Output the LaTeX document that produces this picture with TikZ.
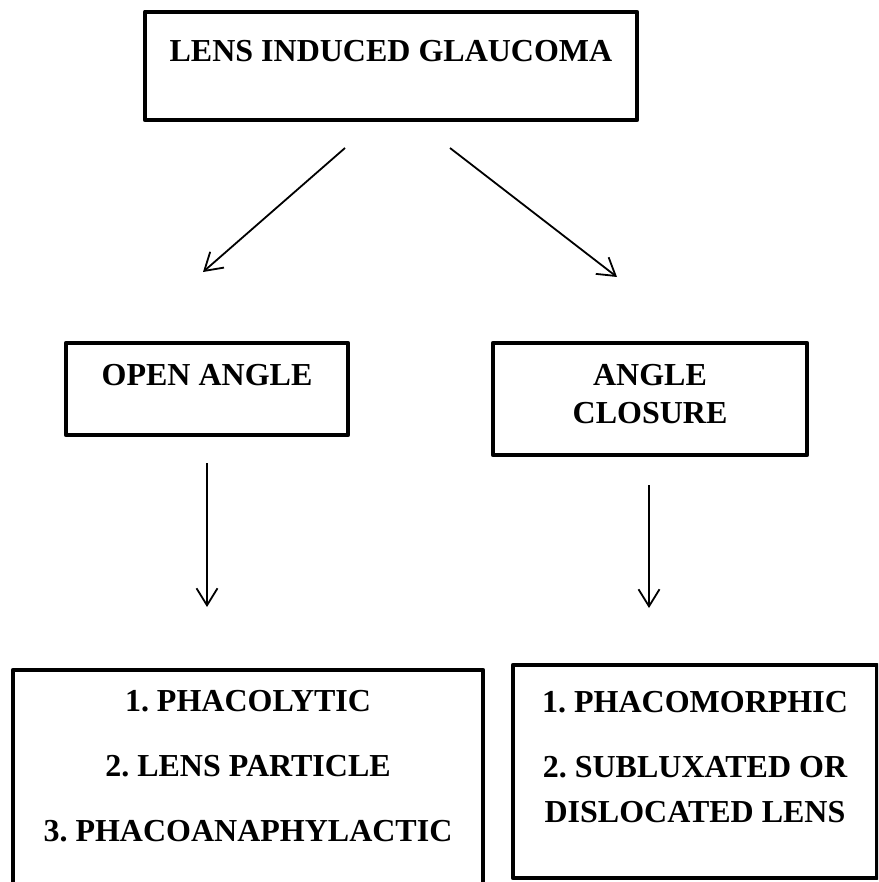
\documentclass[tikz,border=0pt]{standalone}
\usepackage{fontspec}
\setmainfont{Liberation Serif}
\usetikzlibrary{arrows.meta}
\frenchspacing

\tikzset{
    box/.style={draw=black, line width=4.8pt, line join=round, inner sep=0pt, outer sep=0pt},
    txt/.style={font=\fontsize{32}{38}\selectfont\bfseries, align=center, inner sep=0pt},
    arr/.style={black, line width=1.8pt, -{Straight Barb[length=17pt,width=21pt]}}
}

\begin{document}
\begin{tikzpicture}[x = 1pt, y = -1pt]

            \useasboundingbox (0,0) rectangle (878,882);
            \clip (0,0) rectangle (878,882);
            \fill[white] (0,0) rectangle (878,882);

            \node[box, minimum width=492, minimum height=108] (lig) at (391,66) {};
            \node[txt] (ligT) at (391,51) {LENS INDUCED GLAUCOMA};

            \node[box, minimum width=282, minimum height=92] (open) at (207,389) {};
            \node[txt] (openT) at (207,375) {OPEN ANGLE};

            \node[box, minimum width=314, minimum height=112] (closed) at (650,399) {};
            \node[txt] (closedT) at (650,394) {ANGLE\\CLOSURE};

            \node[box, minimum width=470, minimum height=250] (openList) at (248,795) {};
            \node[txt] (openListT) at (248,766)
                {1. PHACOLYTIC\\[27pt]2. LENS PARTICLE\\[27pt]3. PHACOANAPHYLACTIC};

            \node[box, minimum width=364, minimum height=213] (closedList) at (695,771.5) {};
            \node[txt] (closedListT) at (695,757)
                {1. PHACOMORPHIC\\[27pt]2. SUBLUXATED OR\\[7pt]DISLOCATED LENS};

            \coordinate (ligL) at (345,148);
            \coordinate (ligR) at (450,148);
            \coordinate (openIn) at (203,272);
            \coordinate (closedIn) at (617,277);
            \coordinate (openOut) at (207,463);
            \coordinate (openListIn) at (207,607);
            \coordinate (closedOut) at (649,485);
            \coordinate (closedListIn) at (649,608);

            \draw[arr] (ligL) -- (openIn);
            \draw[arr] (ligR) -- (closedIn);
            \draw[arr] (openOut) -- (openListIn);
            \draw[arr] (closedOut) -- (closedListIn);
        \end{tikzpicture}
\end{document}
